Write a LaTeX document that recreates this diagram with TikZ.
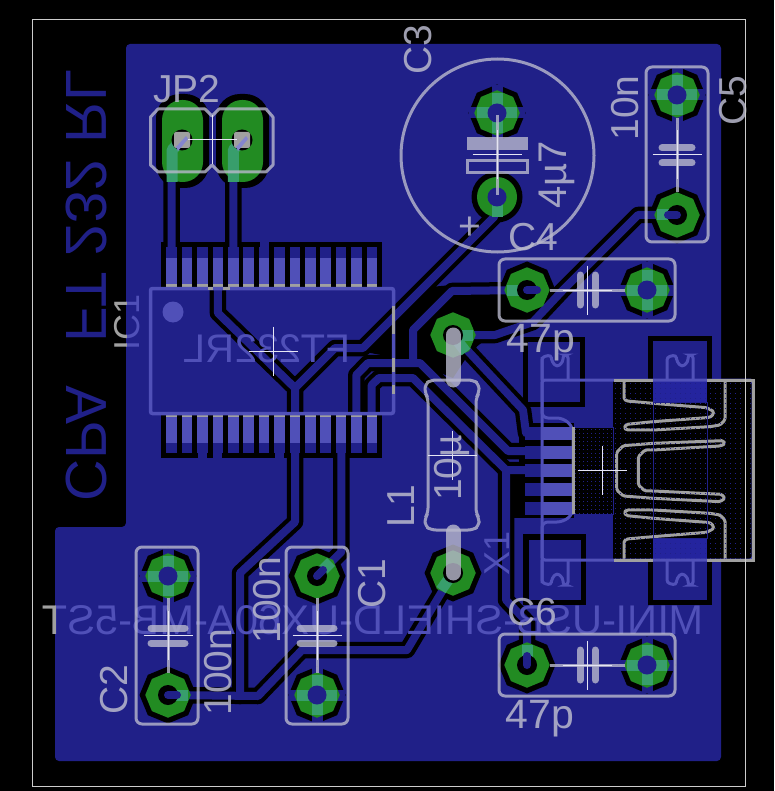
\documentclass[tikz,border=0pt]{standalone}
\usepackage{fontspec}
\setmainfont{Liberation Sans}
\usepackage{xcolor}
\usetikzlibrary{shapes.geometric}
\definecolor{pcb_blue}{RGB}{32, 32, 136}
\definecolor{pcb_lit}{RGB}{80, 80, 184}
\definecolor{pcb_pure}{RGB}{36, 36, 158}
\definecolor{pcb_green}{RGB}{34, 139, 34}
\definecolor{pcb_teal}{RGB}{56, 158, 108}
\definecolor{pcb_silk}{RGB}{185, 185, 205}
\definecolor{pcb_gray}{RGB}{160, 160, 160}
\tikzset{
  clearline/.style={black, line width=16.5pt, line join=round, line cap=round},
  bluetrace/.style={pcb_blue, line width=8pt, line join=round, line cap=round},
  tealbar/.style={pcb_teal, line width=11pt},
  spoke/.style={pcb_blue, line width=11pt},
  padclear/.style={regular polygon, regular polygon sides=8, shape border rotate=22.5,
    fill=black, inner sep=0pt, minimum size=57pt},
  padgreen/.style={regular polygon, regular polygon sides=8, shape border rotate=22.5,
    fill=pcb_green, inner sep=0pt, minimum size=45.5pt},
  silk/.style={pcb_silk, opacity=0.8, line width=3pt},
  silkbar/.style={pcb_silk, opacity=0.8, line width=7pt, line cap=round},
  litline/.style={pcb_lit, line width=3pt, rounded corners=3pt},
  grayline/.style={pcb_gray, line width=3pt},
  origin/.style={white!85!pcb_lit, line width=1pt},
  lbl/.style={font=\fontsize{39}{40}\selectfont, inner sep=0pt, text=pcb_silk, text opacity=0.85},
  litlbl/.style={font=\fontsize{40}{40}\selectfont, inner sep=0pt, text=pcb_lit},
  squiggle/.style={pcb_gray, line width=3pt, rounded corners=1.5pt, line join=round},
}
\begin{document}
\begin{tikzpicture}[x=1pt, y=-1pt]
  \useasboundingbox (0,0) rectangle (774,791);
  \fill[black] (0,0) rectangle (774,791);

  % --- Board outline and copper pour ---
  \fill[pcb_blue, rounded corners=4pt] (126,44) -- (721,44) -- (721,761) -- (55,761)
    -- (55,527) -- (126,527) -- cycle;
  \node[font=\fontsize{58}{58}\selectfont, inner sep=0pt, text=pcb_blue, cm={0,1,1,0,(0,0)}]
    (title) at (86,285) {CPA\hspace{27pt} FT 232 RL};

  % --- Clearance of the through-hole pads ---
  \foreach \n/\x/\y in {c2a/168/576, c2b/168/695, c1a/317/576, c1b/317/695,
                        c3a/497/113, c5a/677/95, c5b/677/215, c4a/527/290,
                        c4b/647/290, l1a/453/335, l1b/453/573, c6a/527/665, c6b/647/665} {
    \node[padclear] (\n) at (\x,\y) {};
  }
  \fill[black] (497,197) circle (25.5);
  \coordinate (c3b) at (497,197);
  \fill[black, rounded corners=24pt] (156,94) rectangle (209,188);
  \fill[black, rounded corners=24pt] (216,94) rectangle (269,188);
  \coordinate (jp2a) at (182,140);
  \coordinate (jp2b) at (242,140);

  % --- Clearance of the SMD pads ---
  \foreach \k in {0,...,13} {
    \pgfmathsetmacro{\padx}{171.7+15.4*\k}
    \fill[black] (\padx-10.3,242) rectangle (\padx+10.3,287.5);
    \fill[black] (\padx-10.3,413) rectangle (\padx+10.3,458);
  }
  \foreach \y in {433,452,470,489,508} {
    \fill[black] (519,\y-10) rectangle (574,\y+10);
  }
  \fill[black] (523,337) rectangle (585,407);
  \fill[black] (648,336) rectangle (712,405);
  \fill[black] (523,534) rectangle (586,605);
  \fill[black] (648,534) rectangle (712,605);
  % voids left by the pour
  \fill[black] (415,335) -- (453,294) -- (555,297) -- (530,330) -- (495,332)
    -- (470,352) -- (453,378) -- (420,365) -- cycle;
  \fill[black] (365,352) -- (430,287) -- (452,285) -- (415,330) -- (408,360) -- cycle;
  \fill[black] (510,473) rectangle (525,518);
  \fill[black] (613,380) rectangle (753,560);
  \fill[black] (573,427) rectangle (614,514);

  % --- Traces ---
  \foreach \lay in {clearline,bluetrace} {
    \draw[\lay] (171.7,250) -- (171.7,150) -- (jp2a);
    \draw[\lay] (233.3,250) -- (233.3,150) -- (jp2b);
    \draw[\lay] (217.9,280) -- (217.9,313) -- (295,388) -- (295,522) -- (240,573) -- (240,696);
    \draw[\lay] (295,388) -- (335,348) -- (363,348) -- (494,217) -- (c3b);
    \draw[\lay] (c2b.center) -- (258,696) -- (302,650) -- (407,650) -- (l1b.center);
    \draw[\lay] (341.3,450) -- (341.3,552) -- (c1a.center);
    \draw[\lay] (356.3,420) -- (356.3,375) -- (368,363) -- (420,363) -- (508,451) -- (530,451);
    \draw[\lay] (c4a.center) -- (452,291) -- (413,330) -- (413,363);
    \draw[\lay] (371.7,420) -- (371.7,385) -- (379,378) -- (413,378) -- (506,470) -- (530,470);
    \draw[\lay] (l1a.center) -- (523,410) -- (526,433);
    \draw[\lay] (c5b.center) -- (638,215) -- (563,290) -- (533,322) -- (495,335) -- (l1a.center);
    \draw[\lay] (506,470) -- (506,600) -- (527,622) -- (c6a.center);
  }

  % --- SMD pads ---
  \foreach \k in {0,...,13} {
    \pgfmathsetmacro{\padx}{171.7+15.4*\k}
    \fill[pcb_blue] (\padx-5.3,247) rectangle (\padx+5.3,284);
    \fill[pcb_lit] (\padx-5.3,258) rectangle (\padx+5.3,284);
    \fill[pcb_gray] (\padx-5.3,284) rectangle (\padx+5.3,287);
    \fill[pcb_blue] (\padx-5.3,417) rectangle (\padx+5.3,453);
    \fill[pcb_lit] (\padx-5.3,417) rectangle (\padx+5.3,443);
    \fill[pcb_gray] (\padx-5.3,413) rectangle (\padx+5.3,417);
  }
  % thermal links to the pour
  \foreach \k in {6} {
    \pgfmathsetmacro{\padx}{171.7+15.4*\k}
    \fill[pcb_blue] (\padx-4.5,240) rectangle (\padx+4.5,248);
  }
  \foreach \k in {2,3,7} {
    \pgfmathsetmacro{\padx}{171.7+15.4*\k}
    \fill[pcb_blue] (\padx-4.5,452) rectangle (\padx+4.5,460);
  }
  \foreach \y in {433,452,470,489,508} {
    \fill[pcb_blue] (525,\y-6.5) rectangle (573,\y+6.5);
    \fill[pcb_lit] (541,\y-6.5) rectangle (573,\y+6.5);
  }
  \fill[pcb_blue] (528,342) rectangle (580,402);
  \fill[pcb_blue] (653,341) rectangle (707,402);
  \fill[pcb_blue] (529,540) rectangle (581,600);
  \fill[pcb_blue] (653,539) rectangle (707,600);
  \fill[pcb_pure] (653,380) rectangle (707,402);
  \fill[pcb_pure] (653,539) rectangle (707,560);

  % --- Connector shell ---
  \begin{scope}[shift={(610,375)}, x=0.3333pt, y=-0.3333pt]
    \draw[squiggle] (42,15) -- (42,72) -- (50,78) -- (130,85) -- (290,98) -- (312,110)
      -- (305,125) -- (290,128) -- (130,140) -- (50,148) -- (42,158) -- (50,165)
      -- (130,165) -- (300,155) -- (330,150) -- (345,135) -- (345,15);
    \draw[squiggle] (340,197) -- (130,205) -- (40,212) -- (20,232) -- (20,345) -- (40,363)
      -- (130,370) -- (330,380) -- (345,370) -- (335,358) -- (130,348) -- (105,348)
      -- (85,330) -- (85,245) -- (105,225) -- (130,225) -- (330,213) -- (345,207) -- cycle;
    \draw[squiggle] (42,555) -- (42,498) -- (50,492) -- (130,485) -- (290,472) -- (312,460)
      -- (305,445) -- (290,442) -- (130,430) -- (50,422) -- (42,412) -- (50,405)
      -- (130,405) -- (300,415) -- (330,420) -- (345,435) -- (345,555);
  \end{scope}
  \foreach \row in {383,388,...,558} {
    \draw[pcb_blue, line width=1pt, dash pattern=on 1pt off 4pt] (615,\row) -- (753,\row);
  }
  \foreach \row in {429,433,...,513} {
    \draw[pcb_blue, line width=1pt, dash pattern=on 1pt off 3pt] (575,\row) -- (613,\row);
  }
  \draw[pcb_blue, line width=1pt] (653,402) rectangle (707,538);
  \draw[pcb_blue, line width=1pt] (573,427) rectangle (613,514);

  % --- Through-hole pads ---
  \foreach \n in {c2a,c1b,c3a,c5a,c4b,c6b} {
    \draw[spoke] ([xshift=-28pt]\n.center) -- ([xshift=28pt]\n.center);
    \draw[spoke] ([yshift=-28pt]\n.center) -- ([yshift=28pt]\n.center);
  }
  \foreach \n in {c2a,c2b,c1a,c1b,c3a,c5a,c5b,c4a,c4b,l1a,l1b,c6a,c6b} {
    \node[padgreen] (\n-g) at (\n) {};
  }
  \fill[pcb_green] (c3b) circle (20);
  \fill[pcb_green, rounded corners=20pt] (162,100) rectangle (203,182);
  \fill[pcb_green, rounded corners=20pt] (222,100) rectangle (263,182);
  \foreach \n in {c2a,c1b,c3a,c5a,c4b,c6b} {
    \draw[tealbar] ([xshift=-20pt]\n.center) -- ([xshift=20pt]\n.center);
    \draw[tealbar] ([yshift=-20pt]\n.center) -- ([yshift=20pt]\n.center);
  }
  \draw[tealbar] (c3b) -- (497,217);
  \draw[tealbar] (c2b.center) -- (188,695);
  \draw[tealbar] (c1a.center) -- (331,562);
  \draw[tealbar] (c5b.center) -- (657,215);
  \draw[tealbar] (c4a.center) -- (507,290);
  \draw[tealbar] (l1a.center) -- (473,335);
  \draw[tealbar] (l1a.center) -- (466,352);
  \draw[tealbar] (l1b.center) -- (441,590);
  \draw[tealbar] (c6a.center) -- (527,645);
  \draw[tealbar, line join=round] (172,182) -- (172,150) -- (jp2a);
  \draw[tealbar, line join=round] (233.3,182) -- (233.3,150) -- (jp2b);
  % drill holes
  \foreach \n in {c2a,c1b,c3a,c5a,c4b,c6b} {
    \fill[pcb_blue] (\n) circle (9.5);
  }
  \fill[pcb_blue] (c3b) circle (9.5);
  \foreach \n in {c2b,c1a,c5b,c4a,c6a,l1a,l1b} {
    \fill[black] (\n) circle (10);
  }
  \draw[bluetrace] (c2b.center) -- (177,695);
  \draw[bluetrace] (c1a.center) -- (323,570);
  \draw[bluetrace] (c5b.center) -- (668,215);
  \draw[bluetrace] (c4a.center) -- (537,290);
  \draw[bluetrace] (c6a.center) -- (527,656);
  \foreach \n in {jp2a,jp2b} {
    \fill[black] (\n) circle (10.5);
    \fill[pcb_gray, rounded corners=2pt] ([shift={(-8,-8)}]\n) rectangle ([shift={(8,8)}]\n);
  }
  \fill[pcb_lit!70!white] (176,147) -- (186,136) -- (188,139) -- (178,151) -- cycle;
  \fill[pcb_lit!70!white] (236,147) -- (246,136) -- (248,139) -- (238,151) -- cycle;

  % --- Lines of the top-side package drawings ---
  \draw[pcb_lit, line width=3.5pt, rounded corners=2pt] (150.5,288.5) rectangle (393.5,413.5);
  \draw[grayline] (208,288.5) -- (213,288.5);
  \draw[grayline] (223,288.5) -- (230,288.5);
  \draw[grayline] (393.5,306) -- (393.5,334);
  \draw[grayline] (393.5,358) -- (393.5,372);
  \draw[grayline] (393.5,385) -- (393.5,394);
  \fill[pcb_lit] (173,312) circle (10.5);
  \node[litlbl] (ic1val) at (267,349) [xscale=-1] {FT232RL};
  \foreach \sx/\sy/\ys in {0/0/1, 125/0/1, 0/940/-1, 125/940/-1} {
    \begin{scope}[shift={(\sx,\sy)}, yscale=\ys]
      \draw[litline] (542,380) -- (542,357) -- (551,355) -- (552,362) -- (557,367)
        -- (563,362) -- (563,355) -- (568,355) -- (568,380);
    \end{scope}
  }
  \draw[litline, rounded corners=6pt] (542,357) -- (542,418) -- (563,418) -- (573,427)
    -- (573,514) -- (563,522) -- (542,522) -- (542,583);
  \draw[litline] (542,380) rectangle (753,560);
  \draw[grayline] (614,380) -- (653,380);
  \draw[grayline] (707,380) -- (753,380) -- (753,560) -- (707,560);
  \draw[grayline] (653,560) -- (614,560);
  \draw[grayline] (573,427) -- (573,514);
  \node[litlbl, font=\fontsize{36}{36}\selectfont, rotate=90] (x1lbl) at (497,553) {X1};
  \begin{scope}
    \clip (55,600) rectangle (760,640);
    \node[litlbl, font=\fontsize{41.5}{42}\selectfont, xscale=-1] (x1val) at (373,620)
      {MINI-USB-SHIELD-UX60A-MB-5ST};
  \end{scope}
  \begin{scope}
    \clip (30,600) rectangle (55,640);
    \node[litlbl, text=pcb_gray, font=\fontsize{41.5}{42}\selectfont, xscale=-1] (x1val2)
      at (373,620) {MINI-USB-SHIELD-UX60A-MB-5ST};
  \end{scope}
  \begin{scope}
    \clip (126,280) rectangle (160,360);
    \node[litlbl, font=\fontsize{36}{36}\selectfont, rotate=90] (ic1lbl) at (127,322) {IC1};
  \end{scope}
  \begin{scope}
    \clip (100,280) rectangle (126,360);
    \node[litlbl, text=pcb_gray, font=\fontsize{36}{36}\selectfont, rotate=90] (ic1lbl2)
      at (127,322) {IC1};
  \end{scope}

  % --- Silk: capacitors ---
  \draw[silk, rounded corners=6pt] (136,547) rectangle (198,724);
  \draw[silk, rounded corners=6pt] (286,547) rectangle (348,724);
  \draw[silk, rounded corners=6pt] (646,67) rectangle (708,242);
  \draw[silk, rounded corners=6pt] (499,259) rectangle (675,321);
  \draw[silk, rounded corners=6pt] (499,634) rectangle (675,696);
  \foreach \cx in {168,317} {
    \draw[silk] (\cx,598) -- (\cx,673);
    \draw[silkbar] (\cx-17,628) -- (\cx+17,628);
    \draw[silkbar] (\cx-17,643) -- (\cx+17,643);
  }
  \draw[silk] (677,118) -- (677,192);
  \draw[silkbar] (662,148) -- (692,148);
  \draw[silkbar] (662,163) -- (692,163);
  \foreach \cy in {290,665} {
    \draw[silk] (550,\cy) -- (625,\cy);
    \draw[silkbar] (580,\cy-15) -- (580,\cy+15);
    \draw[silkbar] (595,\cy-15) -- (595,\cy+15);
  }
  % electrolytic
  \draw[silk] (497.5,155.5) circle (96.5);
  \fill[pcb_silk, opacity=0.8] (467,137) rectangle (528,150);
  \draw[silk] (467,161) rectangle (527,173);
  \draw[silk] (497,115) -- (497,195);
  \node[lbl] (c3plus) at (470,228) {+};

  % --- Silk: jumper and inductor ---
  \draw[silk, line join=round] (150.5,165) -- (150.5,117) -- (158,109) -- (205,109) -- (212,116) -- (219,109)
    -- (266,109) -- (273,117) -- (273,165) -- (266,172) -- (219,172) -- (212,165)
    -- (205,172) -- (158,172) -- cycle;
  \draw[silk, line width=15pt, line cap=round] (l1a.center) -- (453,380);
  \draw[silk, line width=15pt, line cap=round] (453,532) -- (l1b.center);
  \draw[silk, rounded corners=5pt] (431,380) -- (473,380) -- (479,384) -- (479,393) -- (476,398)
    -- (476,513) -- (479,518) -- (479,526) -- (473,530) -- (431,530) -- (425,526) -- (425,518)
    -- (428,513) -- (428,398) -- (425,393) -- (425,384) -- cycle;

  % --- Origin crosses ---
  \foreach \ox/\oy in {212/140, 497/155, 677/155, 587/290, 587/665, 168/635, 317/635,
                       452/455, 273/351, 602/470} {
    \draw[origin] (\ox-24.5,\oy) -- (\ox+24.5,\oy);
    \draw[origin] (\ox,\oy-24.5) -- (\ox,\oy+24.5);
  }

  % --- Silk: labels ---
  \node[lbl] (jp2lbl) at (187,89) {JP2};
  \node[lbl, rotate=90] (c3lbl) at (418,50) {C3};
  \node[lbl, font=\fontsize{40}{40}\selectfont, rotate=90] (c3val) at (557,175) {4µ7};
  \node[lbl] (c4lbl) at (533,237) {C4};
  \node[lbl, rotate=90] (c5val) at (625,108) {10n};
  \node[lbl, rotate=90] (c5lbl) at (733,101) {C5};
  \node[lbl, font=\fontsize{41}{41}\selectfont] (c4val) at (541,343) {47p};
  \node[lbl] (c6lbl) at (532,612) {C6};
  \node[lbl, font=\fontsize{41}{41}\selectfont] (c6val) at (540,719) {47p};
  \node[lbl, rotate=90] (l1lbl) at (401,506) {L1};
  \node[lbl, rotate=90] (l1val) at (452,468) {10µ};
  \node[lbl, rotate=90] (c2lbl) at (114,690) {C2};
  \node[lbl, rotate=90] (c2val) at (218,672) {100n};
  \node[lbl, rotate=90] (c1val) at (267,600) {100n};
  \node[lbl, rotate=90] (c1lbl) at (372,584) {C1};

  % --- Drawing frame ---
  \draw[white!80!black, line width=1pt] (32.5,19.5) rectangle (745.5,786.5);
\end{tikzpicture}
\end{document}
